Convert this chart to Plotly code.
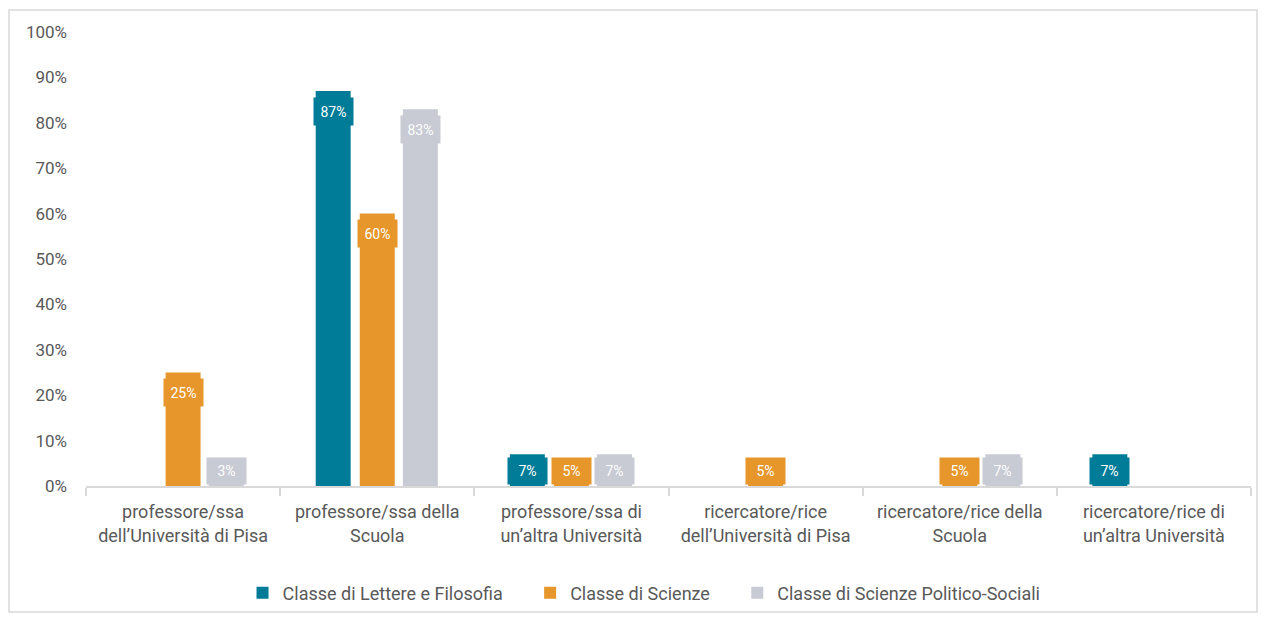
import plotly.graph_objects as go

categories = [
    "professore/ssa<br>dell\u2019Universit\u00e0 di Pisa",
    "professore/ssa della<br>Scuola",
    "professore/ssa di<br>un\u2019altra Universit\u00e0",
    "ricercatore/rice<br>dell\u2019Universit\u00e0 di Pisa",
    "ricercatore/rice della<br>Scuola",
    "ricercatore/rice di<br>un\u2019altra Universit\u00e0",
]
series_names = ["Classe di Lettere e Filosofia", "Classe di Scienze", "Classe di Scienze Politico-Sociali"]
lettere = [0, 87, 7, 0, 0, 7]
scienze = [25, 60, 5, 5, 5, 0]
politico = [3, 83, 7, 0, 7, 0]
colors = ["#007C99", "#E6962A", "#C8CAD4"]
y_ticks = [0, 10, 20, 30, 40, 50, 60, 70, 80, 90, 100]

series = [lettere, scienze, politico]
offsets = [-0.227, 0.0, 0.222]
bar_w = 0.18

# page body has an 8px margin, so the figure is sized/offset to compensate
W, H = 1250, 605
L, T, R, B = 78, 24, 7, 127
PW, PH = W - L - R, H - T - B

fig = go.Figure()
annotations = []
idx = list(range(len(categories)))
pad = "\u00a0" * 5
for k, (name, vals, col, off) in enumerate(zip(series_names, series, colors, offsets)):
    fig.add_trace(go.Bar(
        x=[i + off for i in idx], y=vals, width=bar_w,
        name=name + (pad if k < 2 else ""),
        marker=dict(color=col, line=dict(width=0)), hoverinfo="skip",
    ))
    for i, v in zip(idx, vals):
        if v <= 0:
            continue
        common = dict(xref="x", yref="y", x=i + off, text=f"{v}%", showarrow=False,
                      bgcolor=col, width=37,
                      font=dict(family="Roboto", size=14, color="white"))
        if v >= 10:
            annotations.append(dict(y=v, yanchor="middle", yshift=-20, height=25, **common))
        else:
            annotations.append(dict(y=0, yanchor="bottom", yshift=1, height=24, **common))

fig.update_layout(
    width=W, height=H,
    margin=dict(l=L, r=R, t=T, b=B, autoexpand=False),
    paper_bgcolor="white", plot_bgcolor="white",
    barmode="overlay",
    font=dict(family="Roboto", color="#595959"),
    showlegend=True,
    legend=dict(orientation="h", x=0.479, xanchor="center", y=(H - B - 585) / PH, yanchor="middle",
                bgcolor="rgba(0,0,0,0)",
                font=dict(family="Roboto", size=18, color="#595959"),
                itemwidth=30, traceorder="normal"),
    xaxis=dict(
        range=[-0.5, 5.5], tickmode="array", tickvals=idx, ticktext=categories,
        showgrid=False, zeroline=False, showline=True, linecolor="#D9D9D9", linewidth=1.5,
        ticks="", tickfont=dict(family="Roboto", size=18, color="#595959"),
        ticklabelstandoff=9, automargin=False,
        minor=dict(tickmode="array", tickvals=[-0.5, 0.5, 1.5, 2.5, 3.5, 4.5, 5.5],
                   ticks="outside", ticklen=8, tickcolor="#D9D9D9", tickwidth=1.5, showgrid=False),
    ),
    yaxis=dict(
        range=[0, 100], tickmode="array", tickvals=y_ticks,
        ticktext=[f"{t}%" for t in y_ticks],
        showgrid=False, zeroline=False, showline=False, ticks="",
        tickfont=dict(family="Roboto", size=17, color="#595959"),
        ticklabelstandoff=18, automargin=False,
    ),
    annotations=annotations,
    shapes=[dict(type="rect", xref="paper", yref="paper",
                 x0=(1 - L) / PW, x1=(W - 1 - L) / PW,
                 y0=(H - B - (H - 1)) / PH, y1=(H - B - 2) / PH,
                 line=dict(color="#D9D9D9", width=1.5), fillcolor="rgba(0,0,0,0)", layer="below")],
)

fig.write_html("out.html")
